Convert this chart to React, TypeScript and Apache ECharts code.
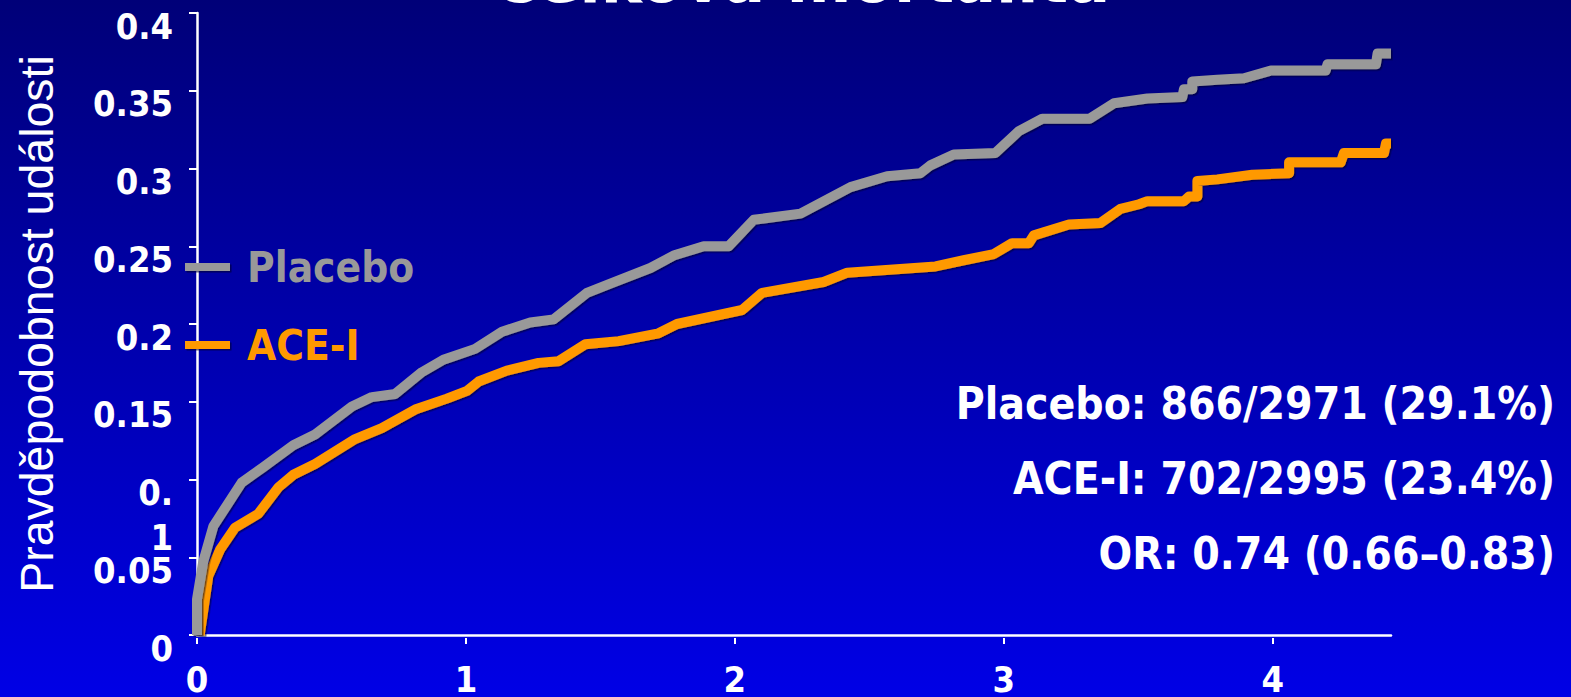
import React, { useEffect, useRef } from "react";
import * as echarts from "echarts";

// Kaplan–Meier style cumulative event probability, years of follow-up
const placeboT = [0, 0, 0.023, 0.061, 0.166, 0.247, 0.358, 0.439, 0.576, 0.65, 0.737, 0.836, 0.916, 1.034, 1.134, 1.239, 1.326, 1.45, 1.537, 1.686, 1.772, 1.884, 1.977, 2.07, 2.244, 2.43, 2.566, 2.69, 2.727, 2.814, 2.969, 3.056, 3.143, 3.319, 3.41, 3.534, 3.664, 3.67, 3.701, 3.701, 3.794, 3.893, 3.993, 4.197, 4.204, 4.384, 4.39, 4.44];
const placeboP = [0, 0.023, 0.047, 0.07, 0.098, 0.108, 0.122, 0.129, 0.147, 0.153, 0.155, 0.169, 0.177, 0.184, 0.195, 0.201, 0.203, 0.22, 0.226, 0.236, 0.244, 0.25, 0.25, 0.267, 0.271, 0.288, 0.295, 0.297, 0.302, 0.309, 0.31, 0.324, 0.332, 0.332, 0.342, 0.345, 0.346, 0.351, 0.351, 0.356, 0.357, 0.358, 0.363, 0.363, 0.367, 0.367, 0.374, 0.374];

const aceT = [0.01, 0.042, 0.086, 0.141, 0.228, 0.303, 0.358, 0.439, 0.588, 0.687, 0.811, 0.929, 1.004, 1.047, 1.152, 1.27, 1.344, 1.444, 1.568, 1.716, 1.785, 2.027, 2.101, 2.33, 2.418, 2.746, 2.851, 2.963, 3.031, 3.093, 3.112, 3.242, 3.36, 3.434, 3.503, 3.534, 3.67, 3.689, 3.72, 3.72, 3.794, 3.924, 4.061, 4.061, 4.253, 4.265, 4.414, 4.421, 4.44];
const aceP = [0, 0.038, 0.055, 0.069, 0.078, 0.095, 0.103, 0.11, 0.126, 0.133, 0.145, 0.152, 0.157, 0.163, 0.17, 0.175, 0.176, 0.187, 0.189, 0.194, 0.2, 0.209, 0.22, 0.227, 0.233, 0.237, 0.241, 0.245, 0.252, 0.252, 0.257, 0.264, 0.265, 0.274, 0.277, 0.279, 0.279, 0.282, 0.282, 0.292, 0.293, 0.296, 0.297, 0.304, 0.304, 0.31, 0.31, 0.316, 0.316];

const yTickLabels = ["0", "0.05", "0.\n1", "0.15", "0.2", "0.25", "0.3", "0.35", "0.4"];
const xTickValues = [0, 1, 2, 3, 4];
const xTickLabels = ["0", "1", "2", "3", "4"];
const seriesNames = ["Placebo", "ACE-I"];
const statLines = ["Placebo: 866/2971 (29.1%)", "ACE-I: 702/2995 (23.4%)", "OR: 0.74 (0.66–0.83)"];
const chartTitle = "Celková mortalita";
const yAxisTitle = "Pravděpodobnost události";

const GRAY = "#999999";
const ORANGE = "#ff9900";
const BOLD_FAMILY = "'DejaVu Sans Condensed', 'DejaVu Sans', sans-serif";

export default function App() {
  const ref = useRef<HTMLDivElement>(null);

  useEffect(() => {
    if (!ref.current) return;
    const chart = echarts.init(ref.current, null, { renderer: "svg" });

    const placeboData = placeboT.map((t, i) => [t, placeboP[i]]);
    const aceData = aceT.map((t, i) => [t, aceP[i]]);

    const tickFont = {
      color: "#ffffff",
      fontSize: 36,
      fontWeight: "bold" as const,
      fontFamily: BOLD_FAMILY,
    };

    const lineShadow = {
      shadowColor: "rgba(0,0,40,0.55)",
      shadowBlur: 0,
      shadowOffsetX: 1.5,
      shadowOffsetY: 1.5,
    };

    chart.setOption({
      animation: false,
      backgroundColor: new echarts.graphic.LinearGradient(0, 0, 0, 1, [
        { offset: 0, color: "#000078" },
        { offset: 1, color: "#0000e6" },
      ]),
      grid: { left: 197, top: 13, right: 180, bottom: 61 },
      legend: {
        orient: "vertical",
        left: 180,
        top: 241,
        itemWidth: 45,
        itemHeight: 8,
        itemGap: 36,
        icon: "rect",
        data: [
          { name: seriesNames[0], textStyle: { color: GRAY } },
          { name: seriesNames[1], textStyle: { color: ORANGE } },
        ],
        textStyle: {
          fontSize: 42,
          fontWeight: "bold",
          fontFamily: BOLD_FAMILY,
          lineHeight: 42,
          padding: [0, 0, 0, 12],
        },
        itemStyle: { ...lineShadow },
      },
      xAxis: [
        {
          type: "value",
          min: 0,
          max: 4.44,
          interval: 1,
          axisLine: { show: true, lineStyle: { color: "#ffffff", width: 2.5 } },
          axisTick: { show: false },
          axisLabel: { show: false },
          splitLine: { show: false },
        },
        {
          type: "value",
          min: 0,
          max: 4.44,
          interval: 1,
          position: "bottom",
          offset: 3,
          axisLine: { show: false },
          axisTick: {
            show: true,
            length: 6,
            customValues: xTickValues,
            lineStyle: { color: "#ffffff", width: 2 },
          },
          axisLabel: {
            ...tickFont,
            lineHeight: 26,
            verticalAlign: "top",
            margin: 28,
            customValues: xTickValues,
            formatter: (v: number) => xTickLabels[xTickValues.indexOf(v)] ?? "",
          },
          splitLine: { show: false },
        },
      ],
      yAxis: {
        type: "value",
        min: 0,
        max: 0.4,
        interval: 0.05,
        axisLine: { show: true, lineStyle: { color: "#ffffff", width: 2.5 } },
        axisTick: { show: true, length: 8, lineStyle: { color: "#ffffff", width: 2 } },
        axisLabel: {
          margin: 24,
          verticalAlign: "top",
          formatter: (v: number) => {
            const s = yTickLabels[Math.round(v / 0.05)] ?? "";
            const parts = s.split("\n");
            if (parts.length > 1) return `{a|${parts[0]}}\n{b|${parts[1]}}`;
            return `{a|${s}}`;
          },
          rich: {
            a: { ...tickFont, lineHeight: 26, align: "right" },
            b: { ...tickFont, lineHeight: 64, align: "right" },
          },
        },
        splitLine: { show: false },
        name: yAxisTitle,
        nameLocation: "middle",
        nameRotate: 90,
        nameGap: 137,
        nameTextStyle: {
          color: "#ffffff",
          fontSize: 46.5,
          fontFamily: "'Liberation Sans', Arial, sans-serif",
        },
      },
      series: [
        {
          name: seriesNames[1],
          type: "line",
          data: aceData,
          symbol: "none",
          clip: false,
          z: 2,
          itemStyle: { color: ORANGE },
          lineStyle: { color: ORANGE, width: 10, join: "round", cap: "butt", ...lineShadow },
        },
        {
          name: seriesNames[0],
          type: "line",
          data: placeboData,
          symbol: "none",
          clip: false,
          z: 3,
          itemStyle: { color: GRAY },
          lineStyle: { color: GRAY, width: 10, join: "round", cap: "butt", ...lineShadow },
        },
      ],
      graphic: [
        {
          type: "text",
          x: 801,
          y: -20,
          style: {
            text: chartTitle,
            fill: "#ffffff",
            font: "bold 62px 'DejaVu Sans', sans-serif",
            align: "center",
            verticalAlign: "middle",
          },
        },
        ...statLines.map((line, i) => ({
          type: "text",
          x: 1555,
          y: 403 + i * 75,
          style: {
            text: line,
            fill: "#ffffff",
            font: `bold 44px ${BOLD_FAMILY}`,
            align: "right",
            verticalAlign: "middle",
          },
        })),
      ],
    });

    return () => chart.dispose();
  }, []);

  return (
    <div
      ref={ref}
      style={{ position: "absolute", left: 0, top: 0, width: 1571, height: 697 }}
    />
  );
}
